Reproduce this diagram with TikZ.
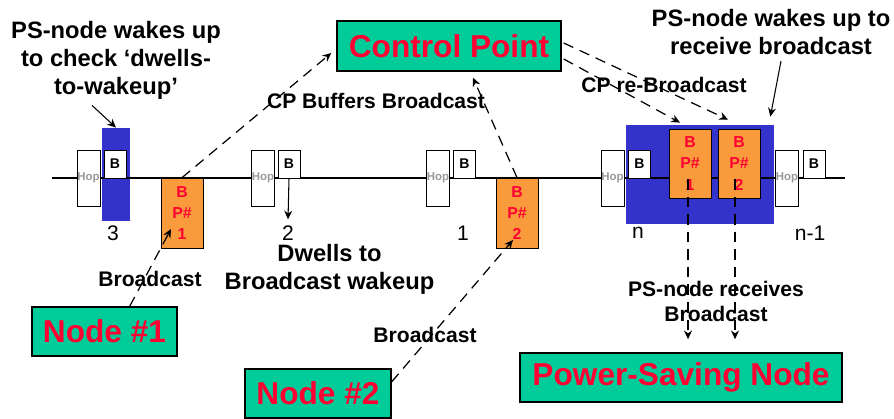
\documentclass[tikz,border=0pt]{standalone}
\usepackage{fontspec}
\setmainfont{Liberation Sans}
\usetikzlibrary{arrows.meta,calc}
\definecolor{psblue}{HTML}{3333CC}
\definecolor{bporange}{HTML}{F99B3C}
\definecolor{boxgreen}{HTML}{00CC99}
\definecolor{alertred}{HTML}{FF0033}

\begin{document}
\begin{tikzpicture}[>={Stealth[length=5pt,width=4.5pt]},
  hop/.style={draw,fill=white,minimum width=0.46cm,minimum height=1.12cm,inner sep=0pt,
    text=black!40,font=\fontsize{6.5}{7}\selectfont\bfseries},
  bbox/.style={draw,fill=white,minimum width=0.44cm,minimum height=0.56cm,inner sep=0pt,
    font=\fontsize{8}{9}\selectfont\bfseries},
  bpkt/.style={draw,fill=bporange,minimum width=0.84cm,minimum height=1.4cm,inner sep=0pt,
    align=center,text=alertred,font=\fontsize{9}{12}\selectfont\bfseries},
  awake/.style={fill=psblue,inner sep=0pt},
  station/.style={draw,line width=0.8pt,fill=boxgreen,inner sep=0pt,minimum height=0.98cm,
    text=alertred,font=\fontsize{18}{20}\selectfont\bfseries},
  note/.style={align=center,font=\fontsize{12}{14}\selectfont\bfseries},
  bignote/.style={align=center,font=\fontsize{13.5}{16}\selectfont\bfseries},
  slot/.style={font=\fontsize{12}{14}\selectfont},
  msg/.style={->,dash pattern=on 6pt off 4pt,line width=0.7pt},
  rx/.style={->,dash pattern=on 6pt off 4pt,line width=1.2pt}]
  \useasboundingbox (0,0) rectangle (17.88,8.38);
  % awake windows of the PS-node
  \node[awake,minimum width=0.56cm,minimum height=1.86cm] (wakea) at (2.32,4.89) {};
  \node[awake,minimum width=2.96cm,minimum height=1.98cm] (wakeb) at (14.00,4.89) {};
  % time line
  \draw[line width=0.6pt] (1.04,4.82) -- (16.90,4.82);
  % hop / beacon slots
  \node[hop] (hop1) at (1.77,4.82) {Hop};   \node[bbox] (b1) at (2.30,5.10) {B};
  \node[hop] (hop2) at (5.26,4.82) {Hop};   \node[bbox] (b2) at (5.78,5.10) {B};
  \node[hop] (hop3) at (8.76,4.82) {Hop};   \node[bbox] (b3) at (9.29,5.10) {B};
  \node[hop] (hop4) at (12.25,4.82) {Hop};  \node[bbox] (b4) at (12.79,5.10) {B};
  \node[hop] (hop5) at (15.74,4.82) {Hop};  \node[bbox] (b5) at (16.28,5.10) {B};
  % broadcast packets
  \node[bpkt] (bpa) at (3.64,4.12) {B\\P\#\\1};
  \node[bpkt] (bpb) at (10.34,4.12) {B\\P\#\\2};
  \node[bpkt,minimum height=1.38cm] (psa) at (13.80,5.11) {B\\P\#\\1};
  \node[bpkt,minimum height=1.38cm] (psb) at (14.78,5.11) {B\\P\#\\2};
  % dwell counters
  \node[slot] (s3) at (2.26,3.72) {3};
  \node[slot] (s2) at (5.76,3.72) {2};
  \node[slot] (s1) at (9.26,3.72) {1};
  \node[slot] (sn) at (12.76,3.72) {n};
  \node[slot] (sn1) at (16.20,3.72) {n-1};
  % stations
  \node[station,minimum width=4.48cm,minimum height=1.0cm] (cp) at (8.98,7.46) {Control Point};
  \node[station,minimum width=2.90cm] (node1) at (2.09,1.75) {Node \#1};
  \node[station,minimum width=2.92cm] (node2) at (6.36,0.51) {Node \#2};
  \node[station,minimum width=6.44cm] (psn) at (13.62,0.83) {Power-Saving Node};
  % notes
  \node[bignote] (wakechk) at (2.32,7.18) {PS-node wakes up\\to check ‘dwells-\\to-wakeup’};
  \node[bignote] (wakerx) at (15.42,7.74) {PS-node wakes up to\\receive broadcast};
  \node[bignote] (dwell) at (6.59,3.00) {Dwells to\\Broadcast wakeup};
  \draw[->,line width=0.6pt] ([xshift=-0.48cm]wakechk.south) -- (wakea.north);
  \draw[->,line width=0.6pt] ([xshift=0.2cm]wakerx.south) -- ($(wakeb.north east)+(-0.08,0.16)$);
  \draw[->,line width=0.6pt] (b2.south) -- (s2.north);
  % broadcast flows
  \draw[msg] (node1.45) -- ($(bpa.center)+(-0.22,-0.32)$);
  \draw[msg] (node2.9) -- ($(bpb.center)+(-0.08,-0.54)$);
  \draw[msg] (bpa.north) -- ($(cp.west)+(-0.10,-0.14)$);
  \draw[msg] (bpb.north) -- ($(cp.south)+(0.48,-0.12)$);
  \draw[msg] ($(cp.east)+(0.04,0.06)$) -- ($(psb.north)+(-0.22,0.18)$);
  \draw[msg] ($(cp.east)+(0.04,-0.26)$) -- ($(psa.north)+(-0.20,0.12)$);
  \draw[rx] ($(psa.center)+(-0.04,-0.31)$) -- ($(psa.center |- psn.north)+(-0.04,0.26)$);
  \draw[rx] ($(psb.center)+(-0.08,-0.31)$) -- ($(psb.center |- psn.north)+(-0.08,0.26)$);
  \node[note] (bcast1) at (3.00,2.80) {Broadcast};
  \node[note] (bcast2) at (8.50,1.68) {Broadcast};
  \node[note] (cpbuf) at (7.52,6.36) {CP Buffers Broadcast};
  \node[note] (cpre) at (13.28,6.68) {CP re-Broadcast};
  \node[note] (psrx) at (14.32,2.35) {PS-node receives\\Broadcast};
\end{tikzpicture}
\end{document}
